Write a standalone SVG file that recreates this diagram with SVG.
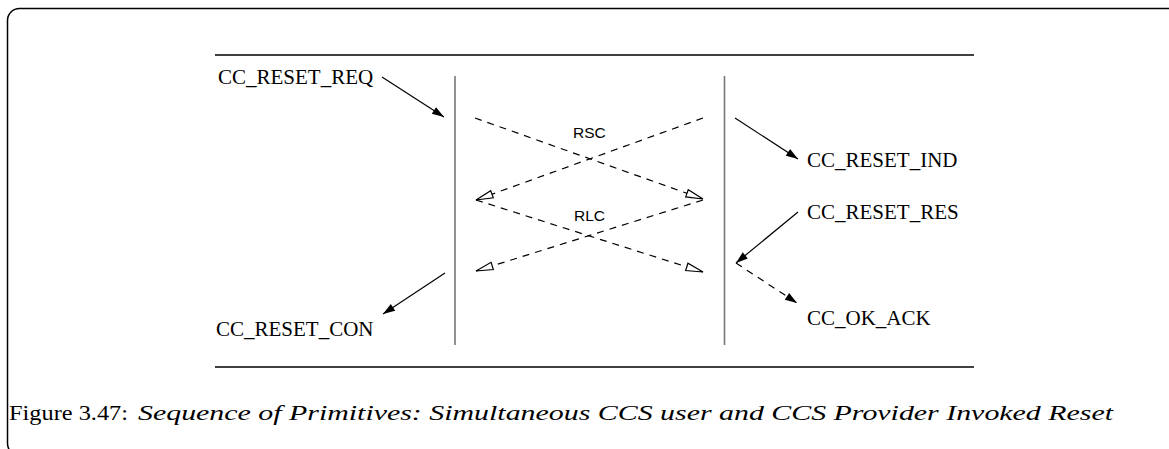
<svg xmlns="http://www.w3.org/2000/svg" width="1169" height="449" viewBox="0 0 1169 449">
<style>
.lbl{font-family:"Liberation Serif","Times New Roman",serif;font-size:21px;fill:#000}
.sm{font-family:"Liberation Sans",Arial,sans-serif;font-size:15.5px;fill:#000}
.cap{font-family:"Liberation Serif","Times New Roman",serif;font-size:21px;fill:#000}
.solid{stroke:#000;stroke-width:1.2;fill:none}
.dash{stroke:#000;stroke-width:1.2;fill:none;stroke-dasharray:7 6}
.life{stroke:#777;stroke-width:1.6}
.rule{stroke:#000;stroke-width:1.5}
</style>
<defs>
<marker id="fa" markerUnits="userSpaceOnUse" markerWidth="14" markerHeight="10" viewBox="-13 -5 14 10" refX="0" refY="0" orient="auto">
<path d="M0,0 L-12,-4 L-12,4 Z" fill="#000"/>
</marker>
<marker id="oa" markerUnits="userSpaceOnUse" markerWidth="22" markerHeight="12" viewBox="-20 -6 22 12" refX="0" refY="0" orient="auto">
<path d="M0,0 L-17,-3.8 L-17,3.8 Z" fill="#fff" stroke="#000" stroke-width="1.2"/>
</marker>
</defs>
<rect x="7.5" y="8.5" width="1180" height="447" rx="12" ry="12" fill="none" stroke="#000" stroke-width="1.5"/>
<line class="rule" x1="215" y1="55" x2="974" y2="55"/>
<line class="rule" x1="215" y1="367" x2="974" y2="367"/>
<g id="left-entity"><line class="life" x1="455" y1="76" x2="455" y2="345"/></g>
<g id="right-entity"><line class="life" x1="724.5" y1="76" x2="724.5" y2="345"/></g>
<g id="req"><text class="lbl" x="218" y="84">CC_RESET_REQ</text></g>
<g id="ind"><text class="lbl" x="807" y="167">CC_RESET_IND</text></g>
<g id="res"><text class="lbl" x="807" y="219">CC_RESET_RES</text></g>
<g id="ack"><text class="lbl" x="807" y="325">CC_OK_ACK</text></g>
<g id="con"><text class="lbl" x="216" y="336">CC_RESET_CON</text></g>
<g id="rsc"><text class="sm" x="573" y="138">RSC</text></g>
<g id="rlc"><text class="sm" x="574" y="221">RLC</text></g>
<g id="connectors">
<line class="solid" x1="382" y1="77" x2="444" y2="117" marker-end="url(#fa)"/>
<line class="solid" x1="735" y1="118" x2="798" y2="159" marker-end="url(#fa)"/>
<line class="solid" x1="798" y1="212" x2="736" y2="263" marker-end="url(#fa)"/>
<line class="dash" x1="736" y1="263" x2="797" y2="303" marker-end="url(#fa)"/>
<line class="solid" x1="445" y1="273" x2="383" y2="314" marker-end="url(#fa)"/>
<line class="dash" x1="475" y1="118" x2="703" y2="199" marker-end="url(#oa)"/>
<line class="dash" x1="703" y1="118" x2="476" y2="200" marker-end="url(#oa)"/>
<line class="dash" x1="476" y1="200" x2="703" y2="272" marker-end="url(#oa)"/>
<line class="dash" x1="703" y1="200" x2="476" y2="271" marker-end="url(#oa)"/>
</g>
<text class="cap" y="420"><tspan x="9" textLength="119" lengthAdjust="spacingAndGlyphs">Figure 3.47:</tspan><tspan font-style="italic" x="138" textLength="975" lengthAdjust="spacingAndGlyphs">Sequence of Primitives: Simultaneous CCS user and CCS Provider Invoked Reset</tspan></text>
</svg>
